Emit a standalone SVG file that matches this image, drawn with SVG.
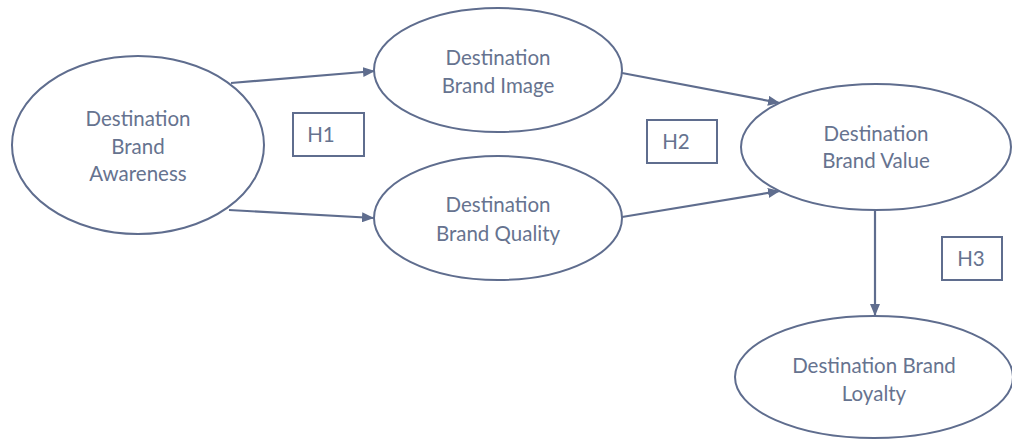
<svg xmlns="http://www.w3.org/2000/svg" width="1012" height="441" viewBox="0 0 1012 441">
<defs>
<style>
.node ellipse{fill:#ffffff;stroke:#5f6d8e;stroke-width:2}
.lbl{font-family:"Lato","Open Sans","Liberation Sans",sans-serif;font-size:20.5px;fill:#66738f;text-anchor:middle;dominant-baseline:central}
.hbox rect{fill:#ffffff;stroke:#5f6d8e;stroke-width:2}
.conn line{stroke:#5f6d8e;stroke-width:2.2;marker-end:url(#ah)}
</style>
<marker id="ah" viewBox="0 0 12 10" refX="12" refY="5" markerWidth="12" markerHeight="10" markerUnits="userSpaceOnUse" orient="auto">
<path d="M0,0 L12,5 L0,10 Z" fill="#5f6d8e"/>
</marker>
</defs>
<rect width="1012" height="441" fill="#ffffff"/>
<g id="connectors" class="conn">
<line x1="231" y1="83" x2="375" y2="71"/>
<line x1="229" y1="210" x2="374" y2="218"/>
<line x1="622" y1="73" x2="780" y2="103"/>
<line x1="622" y1="217" x2="780" y2="191"/>
<line x1="875" y1="210" x2="875" y2="316"/>
</g>
<g id="awareness" class="node">
<ellipse cx="138" cy="145" rx="126" ry="89"/>
<text class="lbl" x="138" y="118">Destination</text>
<text class="lbl" x="138" y="146">Brand</text>
<text class="lbl" x="138" y="173">Awareness</text>
</g>
<g id="image" class="node">
<ellipse cx="498" cy="70" rx="124" ry="62"/>
<text class="lbl" x="498" y="57">Destination</text>
<text class="lbl" x="498" y="85">Brand Image</text>
</g>
<g id="quality" class="node">
<ellipse cx="498" cy="218" rx="124" ry="62"/>
<text class="lbl" x="498" y="204">Destination</text>
<text class="lbl" x="498" y="233">Brand Quality</text>
</g>
<g id="value" class="node">
<ellipse cx="876" cy="147" rx="135" ry="63"/>
<text class="lbl" x="876" y="133">Destination</text>
<text class="lbl" x="876" y="160">Brand Value</text>
</g>
<g id="loyalty" class="node">
<ellipse cx="874" cy="377" rx="139" ry="61"/>
<text class="lbl" x="874" y="365">Destination Brand</text>
<text class="lbl" x="874" y="393">Loyalty</text>
</g>
<g id="h1" class="hbox">
<rect x="293" y="113" width="71" height="43"/>
<text class="lbl" x="321" y="134">H1</text>
</g>
<g id="h2" class="hbox">
<rect x="647" y="120" width="70" height="43"/>
<text class="lbl" x="676" y="141">H2</text>
</g>
<g id="h3" class="hbox">
<rect x="942" y="237" width="60" height="43"/>
<text class="lbl" x="971" y="258">H3</text>
</g>
</svg>
